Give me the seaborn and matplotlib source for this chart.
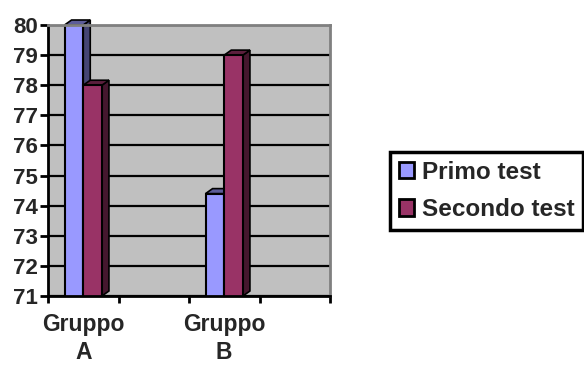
import matplotlib
matplotlib.use("Agg")
import matplotlib.pyplot as plt
import seaborn as sns
import pandas as pd
import numpy as np
from matplotlib.patches import Polygon, Patch, Rectangle
import matplotlib.colors as mcolors

# ---- data ----
groups = ["Gruppo A", "Gruppo B"]
series = ["Primo test", "Secondo test"]
primo = [80, 74.4]
secondo = [78, 79]
slot_order = ["Gruppo A", "_gap1", "Gruppo B", "_gap2"]
slot_labels = ["Gruppo\nA", "", "Gruppo\nB", ""]
yticks = list(range(71, 81))
colors = {"Primo test": "#9999FF", "Secondo test": "#993366"}

df = pd.DataFrame({
    "gruppo": groups * 2,
    "test": [series[0]] * 2 + [series[1]] * 2,
    "valore": primo + secondo,
})

sns.set_theme(style="white")
plt.rcParams['font.family'] = ['Liberation Sans', 'DejaVu Sans']
plt.rcParams['font.weight'] = 'bold'

W, H = 584, 365
fig = plt.figure(figsize=(W / 100, H / 100), dpi=100)
L, R, T, B = 48, 330, 25, 296
ax = fig.add_axes([L / W, 1 - B / H, (R - L) / W, (B - T) / H])
ax.set_facecolor("#C0C0C0")

sns.barplot(data=df, x="gruppo", y="valore", hue="test", order=slot_order,
            hue_order=series, palette=colors, width=0.53, edgecolor="black",
            linewidth=1.5, saturation=1, ax=ax, legend=False, errorbar=None)

ax.set_xlim(-0.5, 3.5)
ax.set_ylim(71, 80)
ax.set_axisbelow(True)
ax.yaxis.grid(True, color="black", lw=1.6)
ax.xaxis.grid(False)

# 3D-like depth faces derived from the drawn bars
px_x = (R - L) / 4.0
px_y = (B - T) / 9.0
dx = 7 / px_x
dy = 5 / px_y
for p in list(ax.patches):
    if not isinstance(p, Rectangle):
        continue
    x0, w, h = p.get_x(), p.get_width(), p.get_height()
    if not np.isfinite(h) or h <= 0:
        continue
    fc = np.array(mcolors.to_rgb(p.get_facecolor()))
    top = Polygon([(x0, h), (x0 + dx, h + dy), (x0 + w + dx, h + dy), (x0 + w, h)],
                  closed=True, facecolor=fc * 0.6, edgecolor="black", lw=1.2,
                  zorder=0.9, clip_on=False)
    side = Polygon([(x0 + w, 71), (x0 + w + dx, 71 + dy), (x0 + w + dx, h + dy), (x0 + w, h)],
                   closed=True, facecolor=fc * 0.45, edgecolor="black", lw=1.2,
                   zorder=0.9, clip_on=False)
    ax.add_patch(side)
    ax.add_patch(top)

ax.set_yticks(yticks)
ax.set_yticklabels([str(v) for v in yticks])
ax.set_xticks([-0.5, 0.5, 1.5, 2.5, 3.5])
ax.set_xticklabels([])
ax.set_xticks([0, 1, 2, 3], minor=True)
ax.set_xticklabels(slot_labels, minor=True)
ax.set_xlabel("")
ax.set_ylabel("")

ax.tick_params(axis="y", which="major", direction="out", length=6, width=2,
               color="black", labelsize=16, pad=1, left=True)
ax.tick_params(axis="x", which="major", direction="out", length=5, width=2,
               color="black", bottom=True)
ax.tick_params(axis="x", which="minor", length=0, labelsize=16.5, pad=12, bottom=True)
for lbl in ax.get_xticklabels(minor=True):
    lbl.set_linespacing(1.32)
    lbl.set_fontweight("bold")
for lbl in ax.get_yticklabels():
    lbl.set_fontweight("bold")

for s in ["left", "bottom"]:
    ax.spines[s].set_color("black")
    ax.spines[s].set_linewidth(2)
for s in ["top", "right"]:
    ax.spines[s].set_color("#808080")
    ax.spines[s].set_linewidth(2)

handles = [Patch(facecolor=colors[s], edgecolor="black", lw=2) for s in series]
leg = fig.legend(handles, series, loc="upper left",
                 bbox_to_anchor=(390 / W, 1 - 152 / H), frameon=True,
                 fancybox=False, framealpha=1, edgecolor="black",
                 prop={"size": 17.5, "weight": "bold"}, handlelength=0.65,
                 handleheight=0.65, handletextpad=0.3, borderpad=0.35,
                 labelspacing=0.6, borderaxespad=0)
leg.get_frame().set_linewidth(2.5)

fig.savefig("out.png", dpi=100)
